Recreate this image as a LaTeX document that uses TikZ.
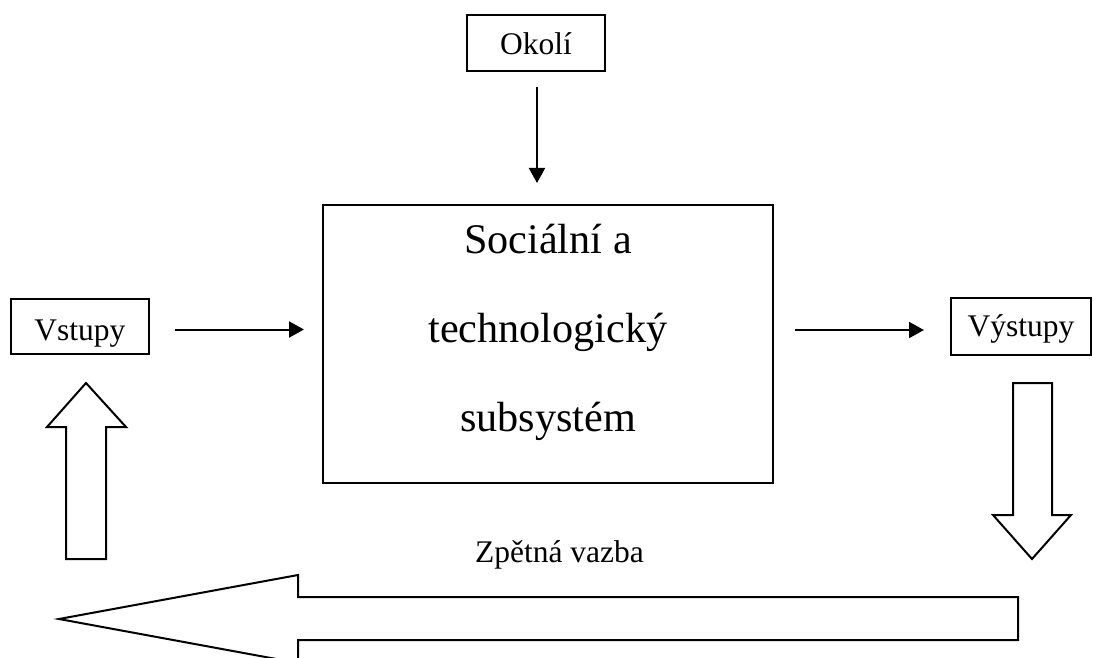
\documentclass[tikz,border=0pt]{standalone}
\usepackage{fontspec}
\setmainfont{Liberation Serif}
\usetikzlibrary{arrows.meta,calc}
\begin{document}
\begin{tikzpicture}[x=1bp,y=-1bp,
  line width=2bp,
  box/.style={draw,inner sep=0pt,font=\fontsize{31.5bp}{36bp}\selectfont,text depth=0pt},
  bigtext/.style={font=\fontsize{42.2bp}{89bp}\selectfont,align=center,inner sep=0pt},
  smalltext/.style={font=\fontsize{31.5bp}{36bp}\selectfont,inner sep=0pt},
  arr/.style={-{Triangle[length=15bp,width=16bp]},line width=2bp},
  block/.style={draw,fill=white,line width=2bp,line join=miter}]
\useasboundingbox (0,0) rectangle (1093,658);
\clip (0,0) rectangle (1093,658);

% boxes
\node[box,minimum width=138bp,minimum height=56bp,text height=24bp] (okoli) at (536,43) {Okolí};
\node[box,minimum width=138bp,minimum height=55bp,text height=27bp] (vstupy) at (80,326.5) {Vstupy};
\node[box,minimum width=140bp,minimum height=57bp,text height=20bp] (vystupy) at (1021,326.5) {Výstupy};
\node[draw,inner sep=0pt,minimum width=450bp,minimum height=278bp] (sys) at (548,344) {};
% the base anchor of a multi-line node sits on its last line
\node[bigtext,anchor=base] (systext) at (548,431) {Sociální a\\technologický\\subsystém};

% thin arrows
\draw[arr] ($(okoli.south)+(1,15)$) -- ($(okoli.south |- sys.north)+(1,-21)$);
\draw[arr] ($(vstupy.east)+(25,3)$) -- ($(vstupy.east -| sys.west)+(-18,3)$);
\draw[arr] ($(sys.east |- vystupy.west)+(21,3.5)$) -- ($(vystupy.west)+(-26,3.5)$);

% feedback block arrows
\draw[block] (66,559) -- (66,427) -- (47,427) -- (86,383) -- (126,427) -- (106,427) -- (106,559) -- cycle;
\draw[block] (1013,383) -- (1052,383) -- (1052,515) -- (1071,515) -- (1032,559) -- (993,515) -- (1013,515) -- cycle;
\draw[block] (1018,597) -- (298,597) -- (298,575) -- (59,619) -- (298,663) -- (298,640) -- (1018,640) -- cycle;

\node[smalltext,anchor=base] (feedback) at (559.5,562) {Zpětná vazba};
\end{tikzpicture}
\end{document}
